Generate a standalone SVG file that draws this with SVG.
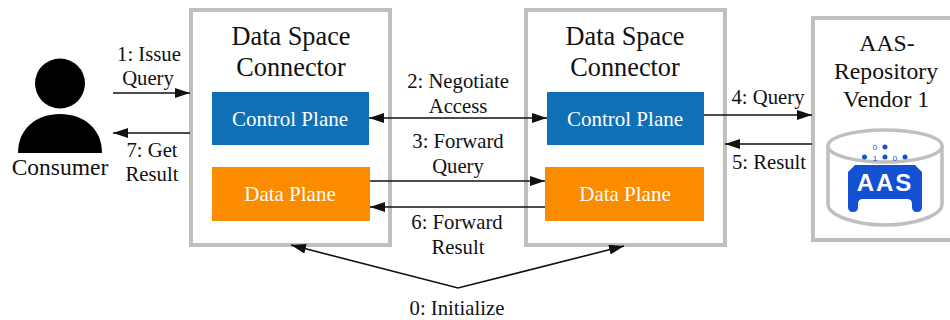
<svg xmlns="http://www.w3.org/2000/svg" width="950" height="320" viewBox="0 0 950 320">
<style>
text{font-family:"Liberation Serif","Times New Roman",serif;fill:#111;text-anchor:middle}
.t{font-size:26.300px}.r{font-size:23.700px}.l{font-size:20.700px}.c{font-size:21px;fill:#fff}
.box{fill:#fff;stroke:#bfbfbf;stroke-width:4}
.blue{fill:#0f70b7}.or{fill:#fb8c00}
.a{fill:none;stroke:#111;stroke-width:1.6}
.d{font-size:8px;fill:#1450d2;font-family:"Liberation Sans",sans-serif}
</style>
<defs>
<marker id="e" markerUnits="userSpaceOnUse" markerWidth="16" markerHeight="11" refX="15" refY="5" orient="auto-start-reverse"><path d="M0 0L15 5L0 10z" fill="#111"/></marker>
</defs>
<g id="consumer">
<circle cx="60" cy="83.500" r="25" fill="#000"/>
<path d="M18 153C18 128 37 114 60 114C83 114 102 128 102 153z" fill="#000"/>
<text x="60" y="175" style="font-size:23.500px">Consumer</text>
</g>
<g id="connector-1">
<rect class="box" x="191" y="10" width="199" height="235"/>
<text class="t" x="291" y="45">Data Space</text>
<text class="t" x="291" y="76">Connector</text>
<g id="control-plane-1"><rect class="blue" x="212" y="92" width="157" height="53"/><text class="c" x="290" y="126">Control Plane</text></g>
<g id="data-plane-1"><rect class="or" x="212" y="167" width="158" height="54"/><text class="c" x="290" y="201">Data Plane</text></g>
</g>
<g id="connector-2">
<rect class="box" x="526" y="10" width="199" height="235"/>
<text class="t" x="625" y="45">Data Space</text>
<text class="t" x="625" y="76">Connector</text>
<g id="control-plane-2"><rect class="blue" x="547" y="92" width="157" height="53"/><text class="c" x="625" y="126">Control Plane</text></g>
<g id="data-plane-2"><rect class="or" x="545" y="167" width="159" height="54"/><text class="c" x="625" y="201">Data Plane</text></g>
</g>
<g id="repository">
<rect class="box" x="813" y="18" width="139" height="222"/>
<text class="r" x="887" y="51">AAS-</text>
<text class="r" x="886" y="79">Repository</text>
<text class="r" x="886" y="107">Vendor 1</text>
<path d="M828 146V204C828 216 857 225 885 225C913 225 942 216 942 204V146" fill="#fff" stroke="#bfbfbf" stroke-width="3.500"/>
<ellipse cx="885" cy="146" rx="57" ry="16" fill="#fff" stroke="#bfbfbf" stroke-width="3.500"/>
<circle cx="864.500" cy="157" r="2.500" fill="#1450d2"/><circle cx="885" cy="157" r="2.500" fill="#1450d2"/><circle cx="905" cy="157" r="2.500" fill="#1450d2"/><circle cx="885" cy="147" r="2.500" fill="#1450d2"/>
<text class="d" x="875" y="150">0</text>
<text class="d" x="875" y="161">1</text>
<text class="d" x="895" y="161">0</text>
<path d="M848 172L855 165H915L922 172V207Q922 212 917 212Q912 212 912 207V204Q912 199 907 199H863Q858 199 858 204V207Q858 212 853 212Q848 212 848 207z" fill="#1450d2"/>
<text x="885" y="191" style="font-size:24px;font-weight:bold;fill:#fff;font-family:'Liberation Sans',sans-serif;letter-spacing:2px">AAS</text>
</g>
<g id="connectors">
<line class="a" x1="113" y1="93" x2="190" y2="93" marker-end="url(#e)"/>
<line class="a" x1="190" y1="133" x2="113" y2="133" marker-end="url(#e)"/>
<line class="a" x1="369" y1="118" x2="547" y2="118" marker-start="url(#e)" marker-end="url(#e)"/>
<line class="a" x1="370" y1="181" x2="545" y2="181" marker-end="url(#e)"/>
<line class="a" x1="545" y1="207" x2="370" y2="207" marker-end="url(#e)"/>
<line class="a" x1="704" y1="115" x2="812" y2="115" marker-end="url(#e)"/>
<line class="a" x1="812" y1="144" x2="725" y2="144" marker-end="url(#e)"/>
<path class="a" d="M291 245L458 288L624 246" marker-start="url(#e)" marker-end="url(#e)"/>
</g>
<g id="labels">
<text class="l" x="149" y="61">1: Issue</text><text class="l" x="148" y="85">Query</text>
<text class="l" x="152" y="157">7: Get</text><text class="l" x="152" y="181">Result</text>
<text class="l" x="458" y="88">2: Negotiate</text><text class="l" x="458" y="113">Access</text>
<text class="l" x="458" y="148">3: Forward</text><text class="l" x="458" y="173">Query</text>
<text class="l" x="457" y="229">6: Forward</text><text class="l" x="458" y="254">Result</text>
<text class="l" x="768" y="104">4: Query</text><text class="l" x="769" y="169">5: Result</text>
<text class="l" x="457" y="315">0: Initialize</text>
</g>
</svg>
